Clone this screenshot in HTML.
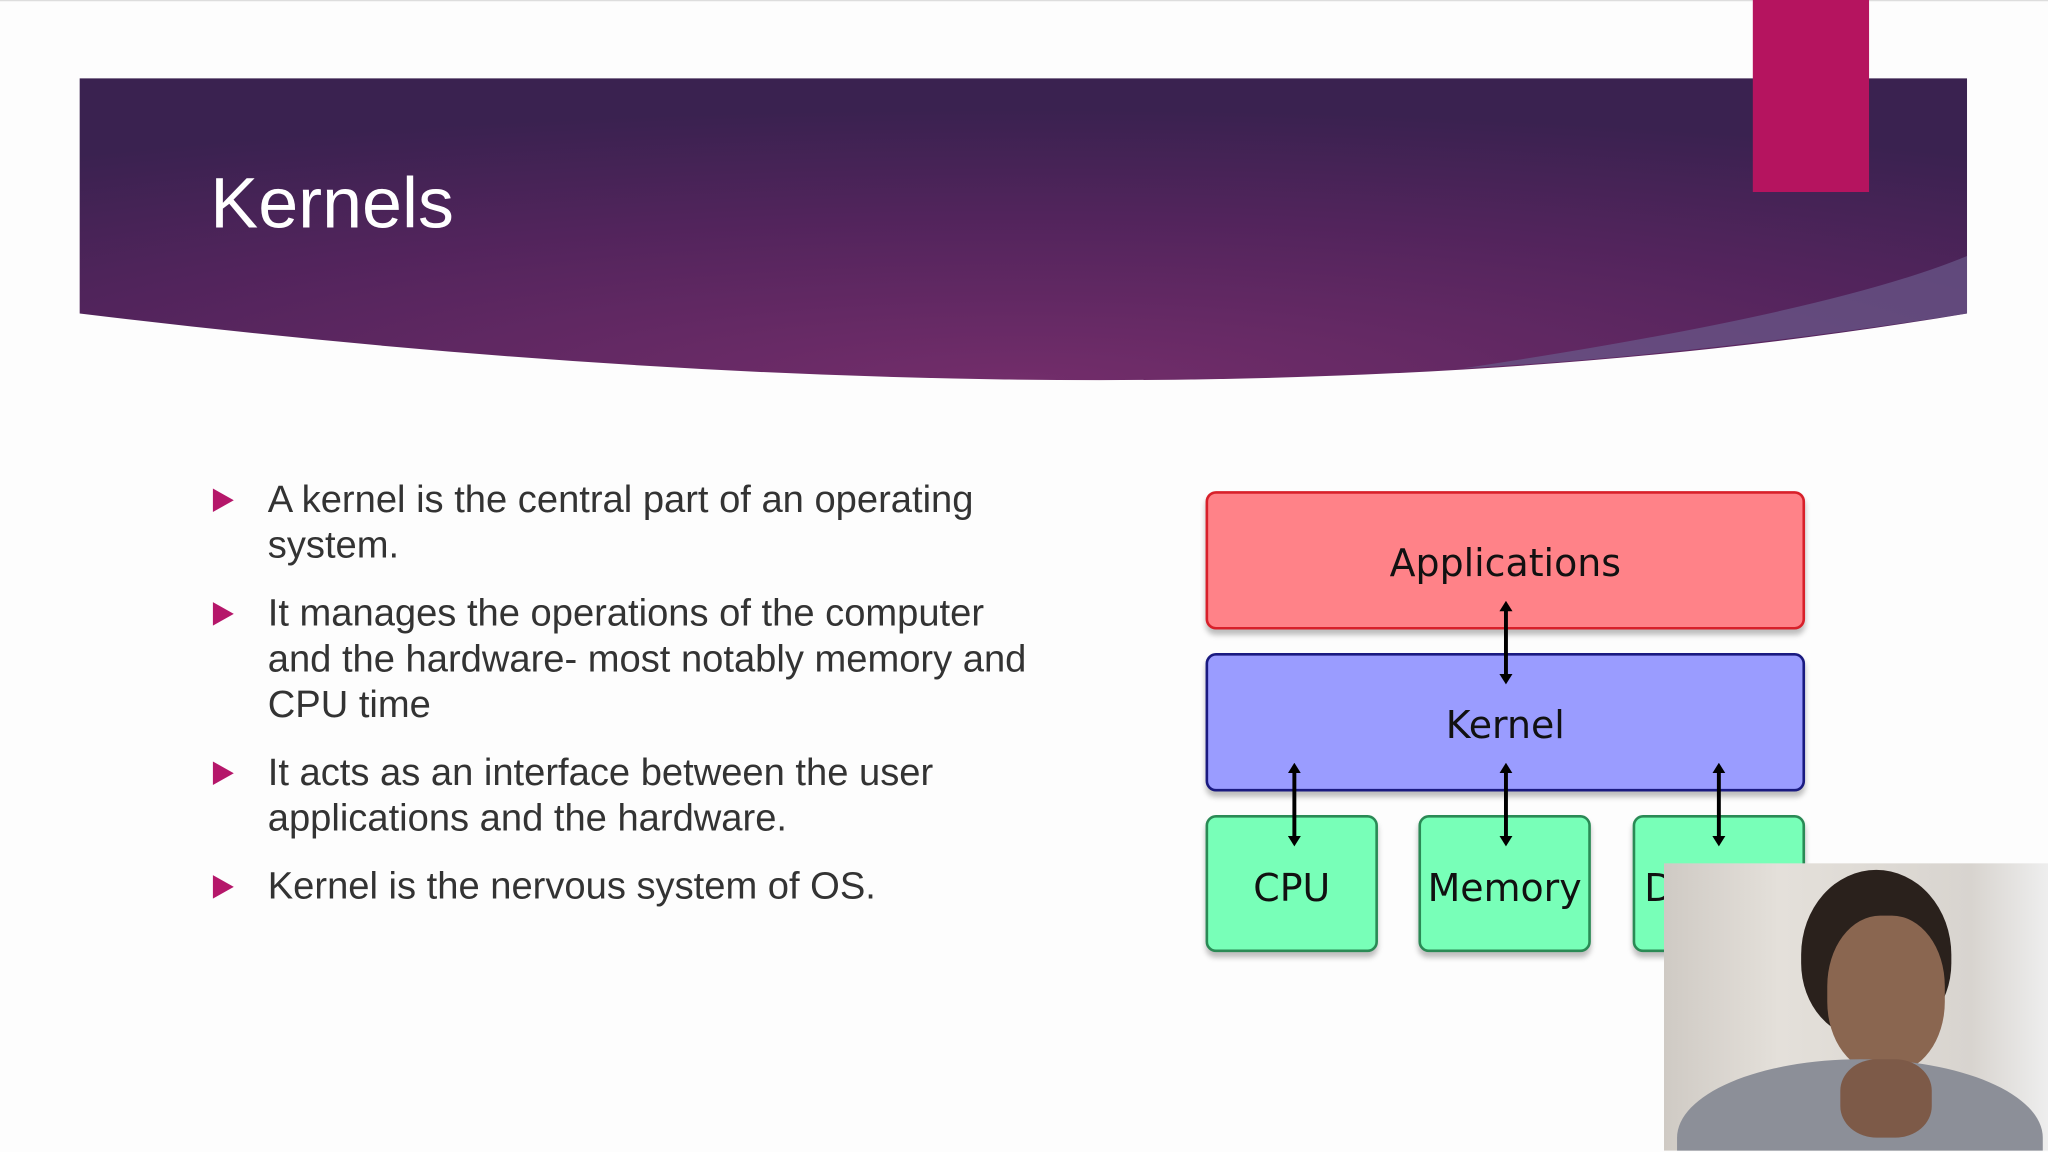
<!DOCTYPE html>
<html><head><meta charset="utf-8"><style>
html,body{margin:0;padding:0;width:2048px;height:1152px;overflow:hidden;background:#fdfdfd}
#s{position:absolute;left:0;top:0;width:1568px;height:881px;overflow:hidden;transform:scale(1.306122);transform-origin:0 0;font-family:"Liberation Sans",sans-serif}
.b{position:absolute;box-sizing:border-box;border-radius:8px;border:2px solid;box-shadow:0 4px 4px rgba(0,0,0,.25);display:flex;align-items:center;justify-content:center;font-family:"DejaVu Sans",sans-serif;font-size:29px;color:#111}
.li{position:absolute;left:205px;font-size:29.2px;line-height:35px;color:#333;white-space:nowrap}
.tri{position:absolute;left:163px;width:0;height:0;border-left:16px solid #b5176a;border-top:9px solid transparent;border-bottom:9px solid transparent}
</style></head><body><div id="s">
<svg width="1568" height="881" style="position:absolute;left:0;top:0">
<defs>
<radialGradient id="g" cx="0.5" cy="1" r="0.9">
<stop offset="0" stop-color="#722d6a"/><stop offset="0.6" stop-color="#52245c"/><stop offset="1" stop-color="#3a2250"/>
</radialGradient>
<marker id="a" markerWidth="8" markerHeight="10" refX="4" refY="5" orient="auto-start-reverse" markerUnits="userSpaceOnUse"><path d="M0,0 L8,5 L0,10 Z" fill="#000"/></marker>
</defs>
<line x1="0" y1="0.5" x2="1568" y2="0.5" stroke="#ddd"/>
<path d="M61,60 H1506 V240 Q900,342 61,240 Z" fill="url(#g)"/>
<path d="M1120,282 Q1400,240 1506,196 V240 Q1300,272 1120,282 Z" fill="#6a5a8a" opacity="0.7"/>
<rect x="1342" y="0" width="89" height="147" fill="#b5145f"/>
</svg>
<div style="position:absolute;left:161px;top:123px;font-size:55px;color:#fff;font-family:'Liberation Sans',sans-serif">Kernels</div>
<div class="tri" style="top:374px"></div>
<div class="li" style="top:366px">A kernel is the central part of an operating<br>system.</div>
<div class="tri" style="top:461px"></div>
<div class="li" style="top:453px">It manages the operations of the computer<br>and the hardware- most notably memory and<br>CPU time</div>
<div class="tri" style="top:583px"></div>
<div class="li" style="top:575px">It acts as an interface between the user<br>applications and the hardware.</div>
<div class="tri" style="top:670px"></div>
<div class="li" style="top:662px">Kernel is the nervous system of OS.</div>
<div class="b" style="left:923px;top:376px;width:459px;height:106px;background:#ff8288;border-color:#d8202a;padding-top:4px">Applications</div>
<div class="b" style="left:923px;top:500px;width:459px;height:106px;background:#9a9cff;border-color:#1a1a80;padding-top:4px">Kernel</div>
<div class="b" style="left:923px;top:624px;width:132px;height:105px;background:#78ffb8;border-color:#2a8a55;padding-top:6px">CPU</div>
<div class="b" style="left:1086px;top:624px;width:132px;height:105px;background:#78ffb8;border-color:#2a8a55;padding-top:6px">Memory</div>
<div class="b" style="left:1250px;top:624px;width:132px;height:105px;background:#78ffb8;border-color:#2a8a55;padding-top:6px">Devices</div>
<svg width="1568" height="881" style="position:absolute;left:0;top:0">
<g stroke="#000" stroke-width="3" marker-start="url(#a)" marker-end="url(#a)">
<line x1="1153" y1="464" x2="1153" y2="520"/>
<line x1="991" y1="588" x2="991" y2="644"/>
<line x1="1153" y1="588" x2="1153" y2="644"/>
<line x1="1316" y1="588" x2="1316" y2="644"/>
</g>
</svg>
<div style="position:absolute;left:1274px;top:661px;width:294px;height:220px;background:linear-gradient(90deg,#cfcac4 0%,#e4e0da 30%,#d8d4cf 80%,#eeeeee 100%);overflow:hidden">
<div style="position:absolute;left:105px;top:5px;width:115px;height:130px;border-radius:50% 50% 45% 45%;background:#2a211c"></div>
<div style="position:absolute;left:125px;top:40px;width:90px;height:120px;border-radius:45%;background:#8a6650"></div>
<div style="position:absolute;left:10px;top:150px;width:280px;height:120px;border-radius:50% 50% 0 0;background:#8c8f98"></div>
<div style="position:absolute;left:135px;top:150px;width:70px;height:60px;border-radius:40%;background:#7d5a48"></div>
</div>
</div></body></html>
